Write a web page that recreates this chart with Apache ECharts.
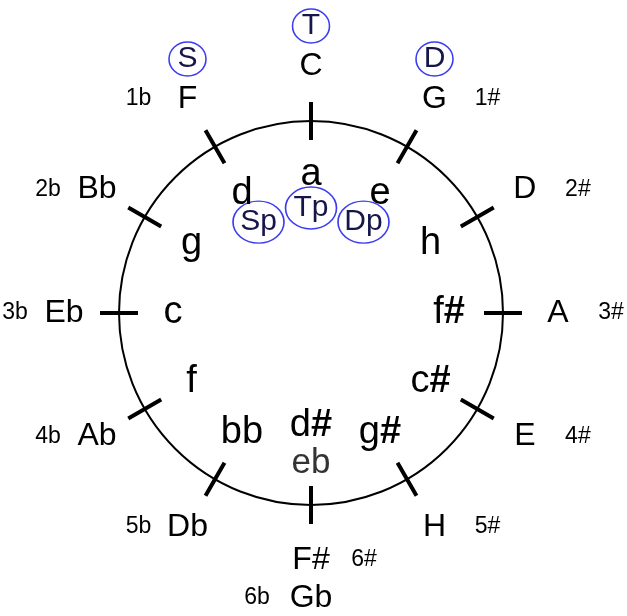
<!DOCTYPE html>
<html>
<head>
<meta charset="utf-8">
<script src="https://cdn.jsdelivr.net/npm/echarts@6/dist/echarts.min.js"></script>
<style>
  html, body { margin: 0; padding: 0; background: #fff; }
  #chart { width: 627px; height: 616px; }
</style>
</head>
<body>
<div id="chart"></div>
<script>
// circle of fifths, clockwise from the top
const majorKeys = ['C', 'G', 'D', 'A', 'E', 'H', 'F#', 'Db', 'Ab', 'Eb', 'Bb', 'F'];
const minorKeys = ['a', 'e', 'h', 'f#', 'c#', 'g#', 'd#', 'bb', 'f', 'c', 'g', 'd'];
const signatures = ['', '1#', '2#', '3#', '4#', '5#', '6#', '5b', '4b', '3b', '2b', '1b'];
// enharmonic spellings (only at the bottom)
const majorAlt = ['', '', '', '', '', '', 'Gb', '', '', '', '', ''];
const signatureAlt = ['', '', '', '', '', '', '6b', '', '', '', '', ''];
const minorAlt = ['', '', '', '', '', '', 'eb', '', '', '', '', ''];
// functions
const functionKeys = ['F', 'C', 'G'];
const functionNames = ['S', 'T', 'D'];
const parallelNames = ['Sp', 'Tp', 'Dp'];

const step = 360 / majorKeys.length;
const center = [311, 313];
const rMajor = 247;
const rMinor = 138;
const font = "'Liberation Sans', Arial, sans-serif";
const blue = '#3c3cf0';
const ink = '#16164a';

const ring = (names, r) => names
  .map((n, i) => n ? { name: n, value: [r, i * step] } : null)
  .filter(Boolean);

const chart = echarts.init(document.getElementById('chart'), null, { width: 627, height: 616 });

const circleAxis = (polarIndex, inside) => ({
  polarIndex: polarIndex,
  type: 'value',
  min: 0,
  max: 360,
  interval: step,
  startAngle: 90,
  clockwise: true,
  axisLine: { show: !inside, lineStyle: { color: '#000', width: 2 } },
  axisTick: { show: true, inside: inside, length: 19, lineStyle: { color: '#000', width: 4 } },
  axisLabel: { show: false },
  splitLine: { show: false }
});

function textSeries(data, label, extra) {
  return Object.assign({
    type: 'scatter',
    coordinateSystem: 'polar',
    polarIndex: 2,
    silent: true,
    clip: false,
    symbol: 'circle',
    symbolSize: 1,
    itemStyle: { color: 'rgba(0,0,0,0)', opacity: 1 },
    label: Object.assign({
      show: true,
      position: 'inside',
      fontFamily: font,
      color: '#000',
      formatter: p => p.name
    }, label),
    data: data
  }, extra || {});
}

const sharpFmt = p => p.name.endsWith('#')
  ? `{n|${p.name.slice(0, -1)}}{s|#}`
  : `{n|${p.name}}`;

const minorData = ring(minorKeys, rMinor).map(d => {
  if (minorAlt[minorKeys.indexOf(d.name)]) d.label = { offset: [0, -25] };
  return d;
});
const minorAltData = ring(minorAlt, rMinor).map(d => Object.assign(d, { label: { offset: [0, 12] } }));

const sigData = ring(signatures, rMajor).map(d => {
  const sharp = d.name.includes('#');
  d.label = { offset: [sharp ? 53 : -49, 0] };
  return d;
});
const sigAltData = ring(signatureAlt, rMajor).map(d => Object.assign(d, { label: { offset: [-54, 38] } }));
const majorAltData = ring(majorAlt, rMajor).map(d => Object.assign(d, { label: { offset: [0, 38] } }));

const funcData = functionKeys.map((k, j) => ({
  name: functionNames[j],
  value: [rMajor, majorKeys.indexOf(k) * step]
}));
const parData = functionKeys.map((k, j) => ({
  name: parallelNames[j],
  value: [105, majorKeys.indexOf(k) * step]
}));

const ringStyle = { color: 'rgba(0,0,0,0)', borderColor: blue, borderWidth: 1.5, opacity: 1 };

const option = {
  animation: false,
  backgroundColor: '#fff',
  polar: [
    { center: center, radius: 192 },
    { center: center, radius: 192 },
    { center: center, radius: 320 }
  ],
  angleAxis: [
    circleAxis(0, false),
    circleAxis(1, true),
    { polarIndex: 2, type: 'value', min: 0, max: 360, startAngle: 90, clockwise: true, show: false }
  ],
  radiusAxis: [
    { polarIndex: 0, type: 'value', min: 0, max: 192, show: false },
    { polarIndex: 1, type: 'value', min: 0, max: 192, show: false },
    { polarIndex: 2, type: 'value', min: 0, max: 320, show: false }
  ],
  series: [
    textSeries(ring(majorKeys, rMajor), { fontSize: 32 }),
    textSeries(majorAltData, { fontSize: 32 }),
    textSeries(sigData, { fontSize: 23 }),
    textSeries(sigAltData, { fontSize: 23 }),
    textSeries(minorData, {
      formatter: sharpFmt,
      rich: {
        n: { fontFamily: font, fontSize: 38, color: '#000' },
        s: { fontFamily: font, fontSize: 38, fontWeight: 'bold', color: '#000' }
      }
    }),
    textSeries(minorAltData, { fontSize: 35, color: '#333' }),
    textSeries(funcData, { fontSize: 30, color: ink }, {
      symbolSize: [37, 34],
      symbolOffset: [0, -40],
      itemStyle: ringStyle
    }),
    textSeries(parData, { fontSize: 30, color: ink }, {
      symbolSize: [51, 42],
      itemStyle: ringStyle
    })
  ]
};

chart.setOption(option);
</script>
</body>
</html>
